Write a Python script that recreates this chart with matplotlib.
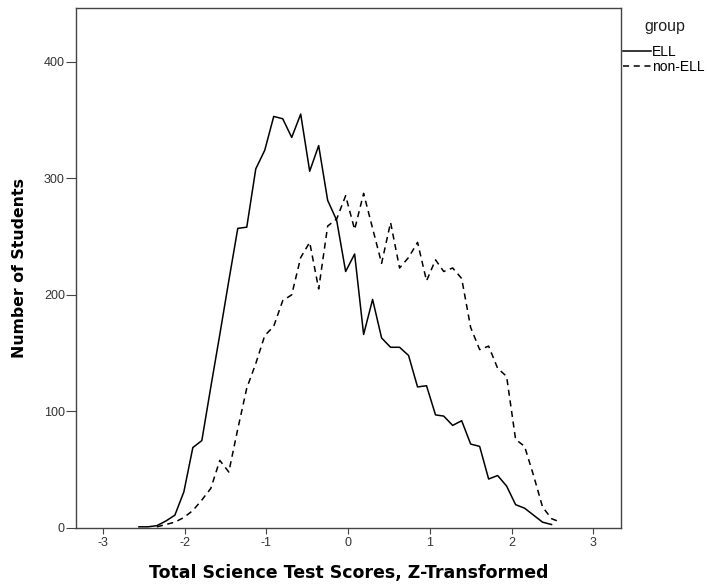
import matplotlib
matplotlib.use("Agg")
import matplotlib.pyplot as plt

plt.rcParams['font.family'] = ['Liberation Sans', 'DejaVu Sans']
plt.rcParams['axes.unicode_minus'] = False

# bin centres (z-scores)
z_ell = [-2.56, -2.45, -2.34, -2.23, -2.12, -2.01, -1.90, -1.79, -1.68, -1.57,
         -1.46, -1.35, -1.24, -1.13, -1.02, -0.91, -0.80, -0.69, -0.58, -0.47,
         -0.36, -0.25, -0.14, -0.03, 0.08, 0.19, 0.30, 0.41, 0.52, 0.63,
         0.74, 0.85, 0.96, 1.07, 1.17, 1.28, 1.39, 1.50, 1.61, 1.72,
         1.83, 1.94, 2.05, 2.16, 2.27, 2.38, 2.49]
n_ell = [1, 1, 2, 6, 11, 31, 69, 75, 121, 166,
         212, 257, 258, 308, 324, 353, 351, 335, 355, 306,
         328, 281, 264, 220, 235, 166, 196, 163, 155, 155,
         148, 121, 122, 97, 96, 88, 92, 72, 70, 42,
         45, 36, 20, 17, 11, 5, 3]

z_non = [-2.34, -2.23, -2.12, -2.01, -1.90, -1.79, -1.68, -1.57, -1.46, -1.35,
         -1.24, -1.13, -1.02, -0.91, -0.80, -0.69, -0.58, -0.47, -0.36, -0.25,
         -0.14, -0.03, 0.08, 0.19, 0.30, 0.41, 0.52, 0.63, 0.74, 0.85,
         0.96, 1.07, 1.17, 1.28, 1.39, 1.50, 1.61, 1.72, 1.83, 1.94,
         2.05, 2.16, 2.27, 2.38, 2.49, 2.60]
n_non = [1, 3, 5, 9, 15, 24, 34, 58, 48, 85,
         120, 141, 165, 173, 195, 200, 232, 245, 205, 259,
         265, 285, 256, 287, 257, 227, 262, 223, 232, 245,
         212, 230, 220, 223, 214, 172, 153, 156, 137, 130,
         76, 70, 45, 18, 8, 5]

x_ticks = [-3, -2, -1, 0, 1, 2, 3]
y_ticks = [0, 100, 200, 300, 400]

W, H = 707, 586
fig = plt.figure(figsize=(W / 100, H / 100), dpi=100)
ax = fig.add_axes([76 / W, 1 - 528 / H, (621 - 76) / W, (528 - 8) / H])

ax.plot(z_ell, n_ell, color='black', lw=1.1, label='ELL')
ax.plot(z_non, n_non, color='black', lw=1.1, dashes=(4, 3), label='non-ELL')

ax.set_xlim(-3.33, 3.34)
ax.set_ylim(0, 446)
ax.set_xticks(x_ticks)
ax.set_yticks(y_ticks)

for s in ax.spines.values():
    s.set_color('#444444')
    s.set_linewidth(1.0)
ax.tick_params(axis='y', length=7, pad=1, color='#444444', labelcolor='#333333', labelsize=9)
ax.tick_params(axis='x', length=4.5, pad=2, color='#444444', labelcolor='#333333', labelsize=9)

ax.set_xlabel('Total Science Test Scores, Z-Transformed', family='DejaVu Sans',
              fontsize=12.5, fontweight='bold', labelpad=11)
ax.set_ylabel('Number of Students', family='DejaVu Sans',
              fontsize=11.3, fontweight='bold', labelpad=12)

# legend: title drawn separately so the gap matches the reference
fig.text(665 / W, 1 - 26.5 / H, 'group', ha='center', va='center', fontsize=11.5, color='#222222')
leg = ax.legend(loc='upper left', bbox_to_anchor=(623 / W, 1 - 45 / H),
                bbox_transform=fig.transFigure, frameon=False, borderpad=0,
                borderaxespad=0, fontsize=10, handlelength=2.05,
                handletextpad=0.05, labelspacing=0.06)

fig.savefig('out.png', dpi=100)
